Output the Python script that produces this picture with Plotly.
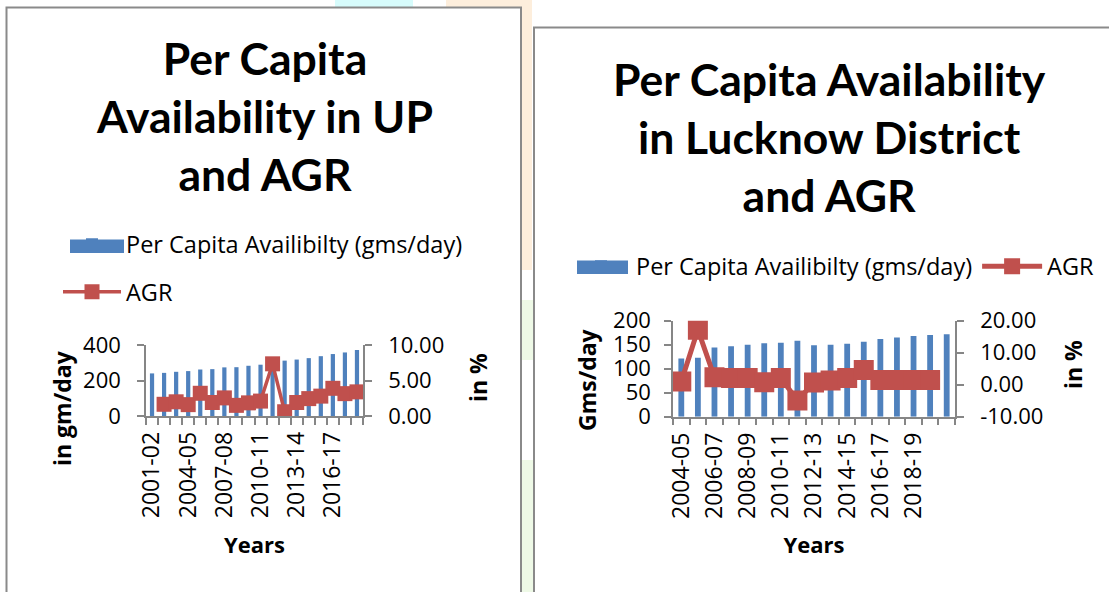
import plotly.graph_objects as go

# ---------------- data ----------------
up_years = ["2001-02", "2002-03", "2003-04", "2004-05", "2005-06", "2006-07",
            "2007-08", "2008-09", "2009-10", "2010-11", "2011-12", "2012-13",
            "2013-14", "2014-15", "2015-16", "2016-17", "2017-18", "2018-19"]
up_per_capita = [240, 243, 249, 253, 262, 264, 274, 275, 283, 289, 310, 312,
                 318, 326, 337, 349, 358, 372]
up_agr = [None, 1.65, 2.0, 1.6, 3.2, 1.9, 2.55, 1.5, 1.85, 2.1, 7.35, 0.6,
          1.9, 2.45, 2.8, 3.9, 3.15, 3.4]
up_tick_labels = ["2001-02", "2004-05", "2007-08", "2010-11", "2013-14", "2016-17"]

lko_years = ["2004-05", "2005-06", "2006-07", "2007-08", "2008-09", "2009-10",
             "2010-11", "2011-12", "2012-13", "2013-14", "2014-15", "2015-16",
             "2016-17", "2017-18", "2018-19", "2019-20", "2020-21"]
lko_per_capita = [121, 123, 144, 147, 150, 153, 154, 158, 149, 150, 152, 156,
                  162, 165, 168, 170, 172]
lko_agr = [1.0, 17.2, 2.3, 2.1, 2.1, 0.8, 2.1, -4.9, 0.7, 1.3, 2.1, 4.6,
           1.5, 1.5, 1.5, 1.5, None]
lko_tick_labels = ["2004-05", "2006-07", "2008-09", "2010-11", "2012-13",
                   "2014-15", "2016-17", "2018-19"]
lko_agr_ticks = [-10, 0, 10, 20]
lko_agr_ticktext = ["-10.00", "0.00", "10.00", "20.00"]

BAR_NAME = "Per Capita Availibilty (gms/day)"
LINE_NAME = "AGR"
BLUE = "#4F81BD"
RED = "#C0504D"
FONT = "Open Sans"
TFONT = "Lato"
W, H = 1109, 592


def px(x):
    return x / W


def py(y):
    return 1 - y / H


fig = go.Figure()

# ---------------- left chart (UP) ----------------
fig.add_trace(go.Bar(x=up_years, y=up_per_capita, name=BAR_NAME,
                     marker=dict(color=BLUE, line=dict(width=0)),
                     xaxis="x", yaxis="y", legend="legend", legendgroup="a"))
fig.add_trace(go.Scatter(x=up_years, y=up_agr, name=LINE_NAME, mode="lines+markers",
                         line=dict(color=RED, width=3.5),
                         marker=dict(symbol="square", size=15, color=RED),
                         xaxis="x", yaxis="y2", legend="legend", legendgroup="b"))

# ---------------- right chart (Lucknow) ----------------
fig.add_trace(go.Bar(x=lko_years, y=lko_per_capita, name=BAR_NAME,
                     marker=dict(color=BLUE, line=dict(width=0)),
                     xaxis="x2", yaxis="y3", legend="legend2"))
fig.add_trace(go.Scatter(x=lko_years, y=lko_agr, name=LINE_NAME, mode="lines+markers",
                         line=dict(color=RED, width=5),
                         marker=dict(symbol="square", size=20, color=RED),
                         xaxis="x2", yaxis="y4", legend="legend2"))

AX = "#868686"
ytickfont = dict(family=FONT, size=22, color="black")
xtickfont = dict(family=FONT, size=23, color="black")


def xaxis_cfg(domain, cats, labels, anchor):
    return dict(domain=domain, anchor=anchor, type="category", automargin=False,
                range=[-0.5, len(cats) - 0.5], autorange=False,
                tickmode="array", tickvals=cats,
                ticktext=[c if c in labels else "" for c in cats],
                tickangle=-90, tickson="boundaries", ticks="outside",
                ticklen=7, tickcolor=AX, tickwidth=1.5, ticklabelstandoff=5,
                showline=True, linecolor=AX, linewidth=1.5,
                showgrid=False, zeroline=False, tickfont=xtickfont,
                title=dict(text="<b>Years</b>", standoff=20,
                           font=dict(family=FONT, size=22, color="black")))


def yaxis_cfg(**kw):
    base = dict(ticks="outside", ticklen=7, tickcolor=AX, tickwidth=1.5,
                ticklabelstandoff=12,
                showline=True, linecolor=AX, linewidth=1.5, showgrid=False,
                zeroline=False, tickfont=ytickfont, automargin=False)
    base.update(kw)
    return base


fig.update_layout(
    width=W, height=H,
    margin=dict(l=0, r=0, t=0, b=0, autoexpand=False),
    paper_bgcolor="white", plot_bgcolor="rgba(0,0,0,0)",
    bargap=0.65, showlegend=True,
    font=dict(family=FONT, color="black"),
    xaxis=xaxis_cfg([px(146), px(363)], up_years, up_tick_labels, "y"),
    yaxis=yaxis_cfg(domain=[py(416), py(345)], anchor="x", range=[0, 400],
                    tickvals=[0, 200, 400]),
    yaxis2=yaxis_cfg(overlaying="y", side="right", anchor="x", range=[0, 10],
                     tickvals=[0, 5, 10], tickformat=".2f"),
    xaxis2=xaxis_cfg([px(673), px(955)], lko_years, lko_tick_labels, "y3"),
    yaxis3=yaxis_cfg(domain=[py(416.7), py(320.7)], anchor="x2", range=[0, 200],
                     tickvals=[0, 50, 100, 150, 200], ticklabelstandoff=9),
    yaxis4=yaxis_cfg(overlaying="y3", side="right", anchor="x2", range=[-10, 20],
                     tickvals=lko_agr_ticks, ticktext=lko_agr_ticktext),
    legend=dict(x=px(58), y=py(222.5), xanchor="left", yanchor="top",
                orientation="v", itemwidth=58, tracegroupgap=14,
                bgcolor="rgba(0,0,0,0)",
                font=dict(family=FONT, size=23.5, color="black")),
    legend2=dict(x=px(566), y=py(244.5), xanchor="left", yanchor="top",
                 orientation="h", itemwidth=60,
                 bgcolor="rgba(0,0,0,0)",
                 font=dict(family=FONT, size=23.5, color="black")),
)

# ---------------- background + panel frames + legend swatches ----------------
shapes = [
    dict(type="rect", xref="paper", yref="paper", x0=px(335), x1=px(413),
         y0=py(12), y1=py(0), fillcolor="#D7FCFC", line_width=0, layer="below"),
    dict(type="rect", xref="paper", yref="paper", x0=px(446), x1=px(532),
         y0=py(270), y1=py(0), fillcolor="#FDEEDC", line_width=0, layer="below"),
    dict(type="rect", xref="paper", yref="paper", x0=px(520), x1=px(534),
         y0=py(360), y1=py(300), fillcolor="#EEF9E6", line_width=0, layer="below"),
    dict(type="rect", xref="paper", yref="paper", x0=px(520), x1=px(534),
         y0=py(592), y1=py(460), fillcolor="#EEF9E6", line_width=0, layer="below"),
    dict(type="rect", xref="paper", yref="paper", x0=px(6.5), x1=px(521),
         y0=py(620), y1=py(7.5), fillcolor="white",
         line=dict(color="#8A8A8A", width=2), layer="below"),
    dict(type="rect", xref="paper", yref="paper", x0=px(534), x1=px(1130),
         y0=py(620), y1=py(27.5), fillcolor="white",
         line=dict(color="#8A8A8A", width=2), layer="below"),
    # wide legend swatches for the bar series
    dict(type="rect", xref="paper", yref="paper", x0=px(70), x1=px(124),
         y0=py(253), y1=py(239.5), fillcolor=BLUE, line_width=0, layer="above"),
    dict(type="rect", xref="paper", yref="paper", x0=px(577), x1=px(628),
         y0=py(274), y1=py(260.5), fillcolor=BLUE, line_width=0, layer="above"),
]
fig.update_layout(shapes=shapes)

# ---------------- titles & axis titles ----------------
title_font = dict(family=TFONT, size=44.5, color="black")
axt_font = dict(family=FONT, size=23, color="black")


def ytitle(text, x, y):
    return dict(text="<b>" + text + "</b>", textangle=-90, x=px(x), y=py(y),
                xref="paper", yref="paper", xanchor="center", yanchor="middle",
                showarrow=False, font=axt_font)


annotations = [
    dict(text="<b>Per Capita<br>Availability in UP<br>and AGR</b>",
         x=px(264), y=py(29), xref="paper", yref="paper", xanchor="center",
         yanchor="top", showarrow=False, font=title_font),
    dict(text="<b>Per Capita Availability<br>in Lucknow District<br>and AGR</b>",
         x=px(829), y=py(50), xref="paper", yref="paper", xanchor="center",
         yanchor="top", showarrow=False, font=title_font),
    ytitle("in gm/day", 62, 408),
    ytitle("in %", 478, 378),
    ytitle("Gms/day", 587, 380),
    ytitle("in %", 1073, 365),
]
fig.update_layout(annotations=annotations)

fig.write_html("out.html",
               config={"displayModeBar": False},
               post_script="document.body.style.margin='0px';"
                           "document.body.style.overflow='hidden';")
